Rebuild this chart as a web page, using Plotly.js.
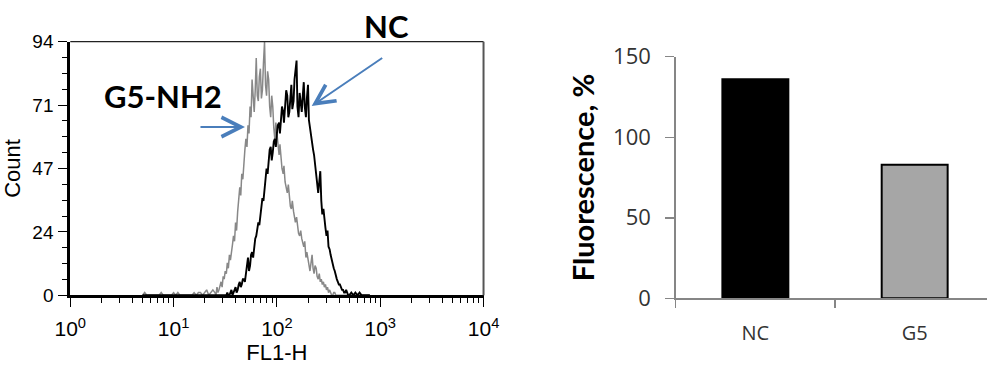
<!DOCTYPE html>
<html>
<head>
<meta charset="utf-8">
<script src="https://cdn.plot.ly/plotly-3.0.1.min.js"></script>
<style>html,body{margin:0;padding:0;background:#fff;}#chart{width:987px;height:366px;}</style>
</head>
<body>
<div id="chart"></div>
<script>
// FL1-H channel values (log-spaced bins)
const fl1h = [5.01,5.25,5.50,5.75,6.03,6.31,6.61,6.92,7.24,7.59,7.94,8.32,8.71,9.12,9.55,
  10.0,10.5,11.0,11.5,12.0,12.6,13.2,13.8,14.5,15.1,15.8,16.6,17.4,18.2,19.1,
  20.0,20.9,21.9,22.9,24.0,
  25.1,25.7,26.3,26.9,27.5,28.2,28.8,29.5,30.2,30.9,
  31.6,32.4,33.1,33.9,34.7,35.5,36.3,37.2,38.0,38.9,
  39.8,40.7,41.7,42.7,43.7,44.7,45.7,46.8,47.9,49.0,
  50.1,51.3,52.5,53.7,55.0,56.2,57.5,58.9,60.3,61.7,
  63.1,64.6,66.1,67.6,69.2,70.8,72.4,74.1,75.9,77.6,
  79.4,81.3,83.2,85.1,87.1,89.1,91.2,93.3,95.5,97.7,
  100,102,105,107,110,112,115,117,120,123,
  126,129,132,135,138,141,145,148,151,155,
  158,162,166,170,174,178,182,186,191,195,
  200,204,209,214,219,224,229,234,240,245,
  251,257,263,269,275,282,288,295,302,309,
  316,324,331,339,347,355,363,372,380,389,
  398,407,417,427,437,447,457,468,479,490,
  501,
  525,550,575,603,631,661,692,724,759,794];
// Counts, G5-NH2 treated cells (grey histogram)
const countG5 = [0,1,0,0,0,0,0,0,0,1,0,0,0,0,0,
  1,0,1,0,0,0,0,0,0,0,1,0,1,1,0,
  1,2,0,1,2,
  1,0,3,1,2,4,5,3,7,6,
  9,8,12,10,15,13,17,19,22,20,
  27,24,31,36,40,37,45,43,50,54,
  58,55,63,60,70,66,80,71,68,76,
  88,74,72,81,84,73,76,86,94,78,
  74,83,80,70,66,74,70,62,58,64,
  60,55,52,56,50,47,45,48,42,40,
  38,41,36,33,32,35,31,28,27,29,
  26,23,22,24,21,19,18,20,14,16,
  13,11,9,12,15,10,8,11,10,7,
  6,8,5,6,4,5,3,4,2,3,
  1,2,1,0,0,1,1,0,0,0,
  0,0,0,0,0,0,0,0,0,0,
  0,
  0,0,0,0,0,0,0,0,0,0];
// Counts, NC control cells (black histogram)
const countNC = [0,0,0,0,0,0,0,0,0,0,0,0,0,0,0,
  0,0,0,0,0,0,0,0,0,0,0,0,0,0,0,
  0,0,0,0,0,
  0,0,0,0,0,0,0,0,0,0,
  0,0,1,0,0,1,2,0,1,2,
  3,1,2,4,5,3,4,6,6,5,
  8,10,14,9,11,15,16,14,19,21,
  22,25,27,26,30,33,36,35,40,44,
  47,45,50,54,55,50,53,57,58,55,
  60,63,64,60,66,70,68,64,70,76,
  74,66,68,75,78,69,72,80,84,87,
  70,66,75,71,68,74,79,70,66,73,
  78,65,62,58,56,54,52,48,44,40,
  38,42,46,35,30,32,27,25,22,24,
  18,17,15,13,12,10,9,7,6,5,
  4,4,3,2,2,1,1,2,1,0,
  0,
  1,0,1,0,1,0,0,0,0,0];

const xTickVals = [1, 10, 100, 1000, 10000];
const xTickText = ['10<sup>0</sup>','10<sup>1</sup>','10<sup>2</sup>','10<sup>3</sup>','10<sup>4</sup>'];
const yTickVals = [0, 23.5, 47, 70.5, 94];
const yTickText = ['0','24','47','71','94'];

// Bar chart
const barCats = ['NC', 'G5'];
const barVals = [136, 83];
const barColors = ['#000000', '#a6a6a6'];

const traces = [
  {x: fl1h, y: countG5, type: 'scatter', mode: 'lines', line: {color: '#888888', width: 1.5}, xaxis: 'x', yaxis: 'y', hoverinfo: 'skip'},
  {x: fl1h, y: countNC, type: 'scatter', mode: 'lines', line: {color: '#000000', width: 1.9}, xaxis: 'x', yaxis: 'y', hoverinfo: 'skip'},
  {x: barCats, y: barVals, type: 'bar', width: 0.414, marker: {color: barColors, line: {color: '#000', width: 2}}, xaxis: 'x2', yaxis: 'y2', hoverinfo: 'skip'}
];

const arialFont = 'Liberation Sans, Arial, sans-serif';
const layout = {
  width: 987, height: 366,
  margin: {l: 0, r: 0, t: 0, b: 0},
  paper_bgcolor: '#fff', plot_bgcolor: 'rgba(0,0,0,0)',
  showlegend: false,
  xaxis: {
    domain: [0.0712, 0.4899], type: 'log', range: [0, 4],
    tickmode: 'array', tickvals: xTickVals, ticktext: xTickText,
    ticks: 'outside', ticklen: 9, tickwidth: 1, tickcolor: '#000',
    minor: {ticks: 'outside', ticklen: 5, dtick: 'D1', tickcolor: '#000', tickwidth: 1},
    showline: true, linecolor: '#000', linewidth: 3,
    showgrid: false, zeroline: false,
    tickfont: {family: arialFont, size: 21, color: '#000'},
    ticklabelstandoff: 4,
    title: {text: 'FL1-H', font: {family: arialFont, size: 22, color: '#000'}, standoff: 4},
    anchor: 'y'
  },
  yaxis: {
    domain: [0.1932, 0.886], range: [0, 94],
    tickmode: 'array', tickvals: yTickVals, ticktext: yTickText,
    ticks: 'outside', ticklen: 9, tickwidth: 1, tickcolor: '#000',
    minor: {ticks: 'outside', ticklen: 5, dtick: 5.875, tick0: 0, tickcolor: '#000', tickwidth: 1},
    showline: true, linecolor: '#000', linewidth: 3,
    showgrid: false, zeroline: false,
    tickfont: {family: arialFont, size: 19, color: '#000'},
    ticklabelstandoff: 1,
    title: {text: 'Count', font: {family: arialFont, size: 22, color: '#000'}, standoff: 8},
    anchor: 'x'
  },
  xaxis2: {
    domain: [0.6846, 1], range: [-0.5, 1.454], type: 'category',
    ticks: 'outside', tickson: 'boundaries', ticklen: 8, tickcolor: '#868686', tickwidth: 1.5,
    showline: true, linecolor: '#868686', linewidth: 1.5,
    showgrid: false, zeroline: false,
    tickfont: {family: 'Open Sans, sans-serif', size: 20, color: '#333'},
    ticklabelstandoff: 16,
    anchor: 'y2'
  },
  yaxis2: {
    domain: [0.185, 0.845], range: [0, 150],
    tickmode: 'array', tickvals: [0, 50, 100, 150],
    ticks: 'outside', ticklen: 9, tickcolor: '#868686', tickwidth: 1.5,
    showline: true, linecolor: '#868686', linewidth: 1.5,
    showgrid: false, zeroline: false,
    tickfont: {family: 'Open Sans, sans-serif', size: 22, color: '#333'},
    ticklabelstandoff: 10,
    title: {text: '<b>Fluorescence, %</b>', font: {family: 'Lato, sans-serif', size: 29, color: '#000'}, standoff: 10},
    anchor: 'x2'
  },
  shapes: [
    {type: 'line', xref: 'x domain', yref: 'y domain', x0: 0, x1: 1, y0: 1, y1: 1, line: {color: '#222', width: 1.2}},
    {type: 'line', xref: 'x domain', yref: 'y domain', x0: 1, x1: 1, y0: 0, y1: 1, line: {color: '#555', width: 2}}
  ],
  annotations: [
    {text: '<b>G5-NH2</b>', xref: 'paper', yref: 'paper', x: 0.1651, y: 0.7377, xanchor: 'center', yanchor: 'middle', showarrow: false,
     font: {family: 'Lato, sans-serif', size: 31, color: '#000'}},
    {text: '<b>NC</b>', xref: 'paper', yref: 'paper', x: 0.3911, y: 0.929, xanchor: 'center', yanchor: 'middle', showarrow: false,
     font: {family: 'Lato, sans-serif', size: 31, color: '#000'}},
    {text: '', xref: 'paper', yref: 'paper', x: 0.2482, y: 0.653, axref: 'pixel', ayref: 'pixel', ax: -46, ay: 0,
     showarrow: true, arrowhead: 5, arrowsize: 1.9, arrowwidth: 2, arrowcolor: '#4a7ebb'},
    {text: '', xref: 'paper', yref: 'paper', x: 0.3158, y: 0.7104, axref: 'pixel', ayref: 'pixel', ax: 72, ay: -49,
     showarrow: true, arrowhead: 5, arrowsize: 1.9, arrowwidth: 2, arrowcolor: '#4a7ebb'}
  ]
};

Plotly.newPlot('chart', traces, layout, {staticPlot: true, displayModeBar: false});
</script>
</body>
</html>
